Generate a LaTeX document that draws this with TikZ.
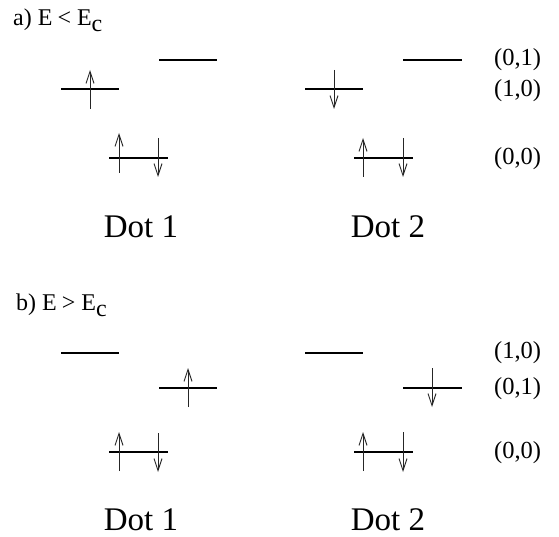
\documentclass[tikz,border=0pt]{standalone}
\usepackage{fontspec}
\setmainfont{Liberation Serif}
\usetikzlibrary{arrows.meta}
\tikzset{
  level/.style={line width=1.8pt, black},
  spin/.style={line width=0.9pt, black!85, -{Straight Barb[length=12pt,width=8pt,line width=0.9pt]}},
  lbl/.style={font=\fontsize{24.5}{28}\selectfont, anchor=west, inner sep=0pt},
  dotlbl/.style={font=\fontsize{33}{40}\selectfont, anchor=base, inner sep=0pt},
  ttl/.style={font=\fontsize{24}{28}\selectfont, anchor=base west, inner sep=0pt}
}
\begin{document}
\begin{tikzpicture}[x=1pt,y=-1pt]
\useasboundingbox (0,0) rectangle (559,537);
% ---------- panel a ----------
\node[ttl] (ta) at (13,26) {a)\hspace{6pt}E\hspace{5pt}<\hspace{6pt}E\raisebox{-6pt}{c}};
% dot 1
\draw[level] (61,89) -- (119,89);
\draw[spin] (90,109) -- (90,70);
\draw[level] (159,60) -- (217,60);
\draw[level] (109,158) -- (168,158);
\draw[spin] (119,173) -- (119,133);
\draw[spin] (158,138) -- (158,177);
% dot 2
\draw[level] (305,89) -- (363,89);
\draw[spin] (334,70) -- (334,109);
\draw[level] (403,60) -- (462,60);
\draw[level] (354,158) -- (413,158);
\draw[spin] (363,177) -- (363,138);
\draw[spin] (403,138) -- (403,177);
% labels
\node[lbl] (a01) at (494,60) {(0,1)};
\node[lbl] (a10) at (494,91) {(1,0)};
\node[lbl] (a00) at (494,159) {(0,0)};
\node[dotlbl] (ad1) at (141,237) {Dot 1};
\node[dotlbl] (ad2) at (388,237) {Dot 2};
% ---------- panel b ----------
\node[ttl] (tb) at (16,310) {b)\hspace{6pt}E\hspace{5pt}>\hspace{6pt}E\raisebox{-6pt}{c}};
% dot 1
\draw[level] (61,353) -- (119,353);
\draw[level] (159,388) -- (217,388);
\draw[spin] (188,407) -- (188,368);
\draw[level] (109,452) -- (168,452);
\draw[spin] (119,471) -- (119,432);
\draw[spin] (158,433) -- (158,472);
% dot 2
\draw[level] (305,353) -- (363,353);
\draw[level] (403,388) -- (462,388);
\draw[spin] (432,368) -- (432,407);
\draw[level] (354,452) -- (413,452);
\draw[spin] (363,471) -- (363,432);
\draw[spin] (403,432) -- (403,472);
% labels
\node[lbl] (b10) at (494,353) {(1,0)};
\node[lbl] (b01) at (494,389) {(0,1)};
\node[lbl] (b00) at (494,453) {(0,0)};
\node[dotlbl] (bd1) at (141,530) {Dot 1};
\node[dotlbl] (bd2) at (388,530) {Dot 2};
\end{tikzpicture}
\end{document}
